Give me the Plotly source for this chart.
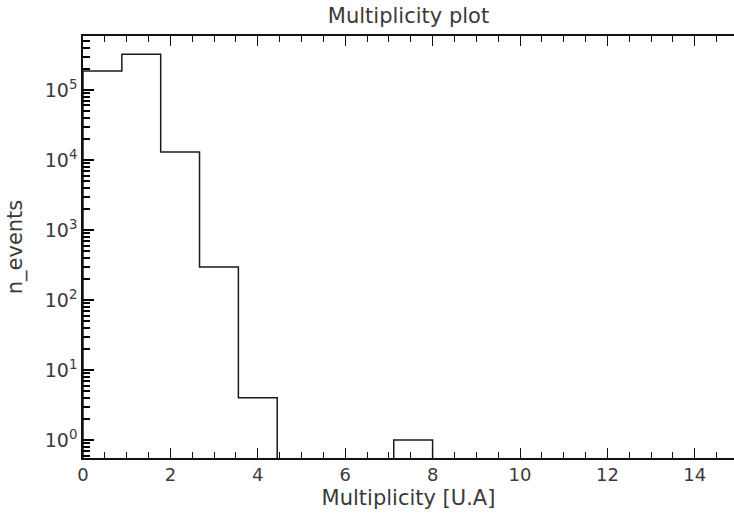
import numpy as np
import plotly.graph_objects as go

# Histogram data (17 bins, width 8/9)
bin_width = 8 / 9
n_bins = 17
bin_edges = [i * bin_width for i in range(n_bins + 1)]
counts = [187000, 324000, 13000, 295, 4, 0, 0, 0, 1, 0, 0, 0, 0, 0, 0, 0, 0]

title = "Multiplicity plot"
x_label = "Multiplicity [U.A]"
y_label = "n_events"
y_major_vals = [1, 10, 100, 1000, 10000, 100000]
y_major_text = ["10<sup>0</sup>", "10<sup>1</sup>", "10<sup>2</sup>", "10<sup>3</sup>",
                "10<sup>4</sup>", "10<sup>5</sup>"]
y_minor_vals = [m * 10 ** d for d in range(-1, 6) for m in range(2, 10)]

floor = 1e-3
draw_counts = [c if c > 0 else floor for c in counts]
xs = [bin_edges[0]] + bin_edges[:-1] + [bin_edges[-1], bin_edges[-1]]
ys = [floor] + draw_counts + [draw_counts[-1], floor]

fig = go.Figure()
fig.add_trace(go.Scatter(x=xs, y=ys, mode="lines", line_shape="hv",
                         line=dict(color="#1a1a1a", width=1.5), hoverinfo="skip"))
# invisible trace that carries the minor-tick overlay axis
fig.add_trace(go.Scatter(x=[bin_edges[0]], y=[counts[0]], yaxis="y2", mode="markers",
                         marker=dict(opacity=0), hoverinfo="skip"))

font_col = "#3a3a3a"
tick_col = "#111111"
yr = [np.log10(0.553), np.log10(5.9e5)]
fig.update_layout(
    width=734, height=515,
    margin=dict(l=83, r=0, t=36, b=57),
    paper_bgcolor="white", plot_bgcolor="white",
    font=dict(family="DejaVu Sans", color=font_col, size=18),
    title=dict(text=title, x=0.5, xanchor="center", xref="paper",
               y=1 - 16 / 515, yanchor="middle", yref="container",
               font=dict(size=21, color=font_col)),
    showlegend=False,
    yaxis2=dict(type="log", range=yr, overlaying="y", side="left", anchor="x",
                tickmode="array", tickvals=y_minor_vals, ticks="inside", ticklen=7,
                tickwidth=2, tickcolor="black", showticklabels=False,
                showgrid=False, showline=False),
)
fig.update_xaxes(
    range=[0, 651 / 43.7], showgrid=False, zeroline=False,
    showline=True, linecolor=tick_col, linewidth=1.5, mirror="ticks",
    ticks="inside", ticklen=10, tickwidth=1.3, tickcolor=tick_col,
    dtick=2, tick0=0,
    minor=dict(ticks="inside", ticklen=6, tickwidth=1.2, tickcolor=tick_col, dtick=0.5, showgrid=False),
    tickfont=dict(size=18, color=font_col),
    title=dict(text=x_label, font=dict(size=21, color=font_col), standoff=6),
)
fig.layout.yaxis.update(
    type="log", range=yr, showgrid=False,
    showline=True, linecolor=tick_col, linewidth=1.5,
    ticks="inside", ticklen=11, tickwidth=2, tickcolor="black",
    tickmode="array", tickvals=y_major_vals, ticktext=y_major_text,
    tickfont=dict(size=19, color=font_col),
    title=dict(text=y_label, font=dict(size=21, color=font_col), standoff=16),
)

fig.write_html("out.html")
